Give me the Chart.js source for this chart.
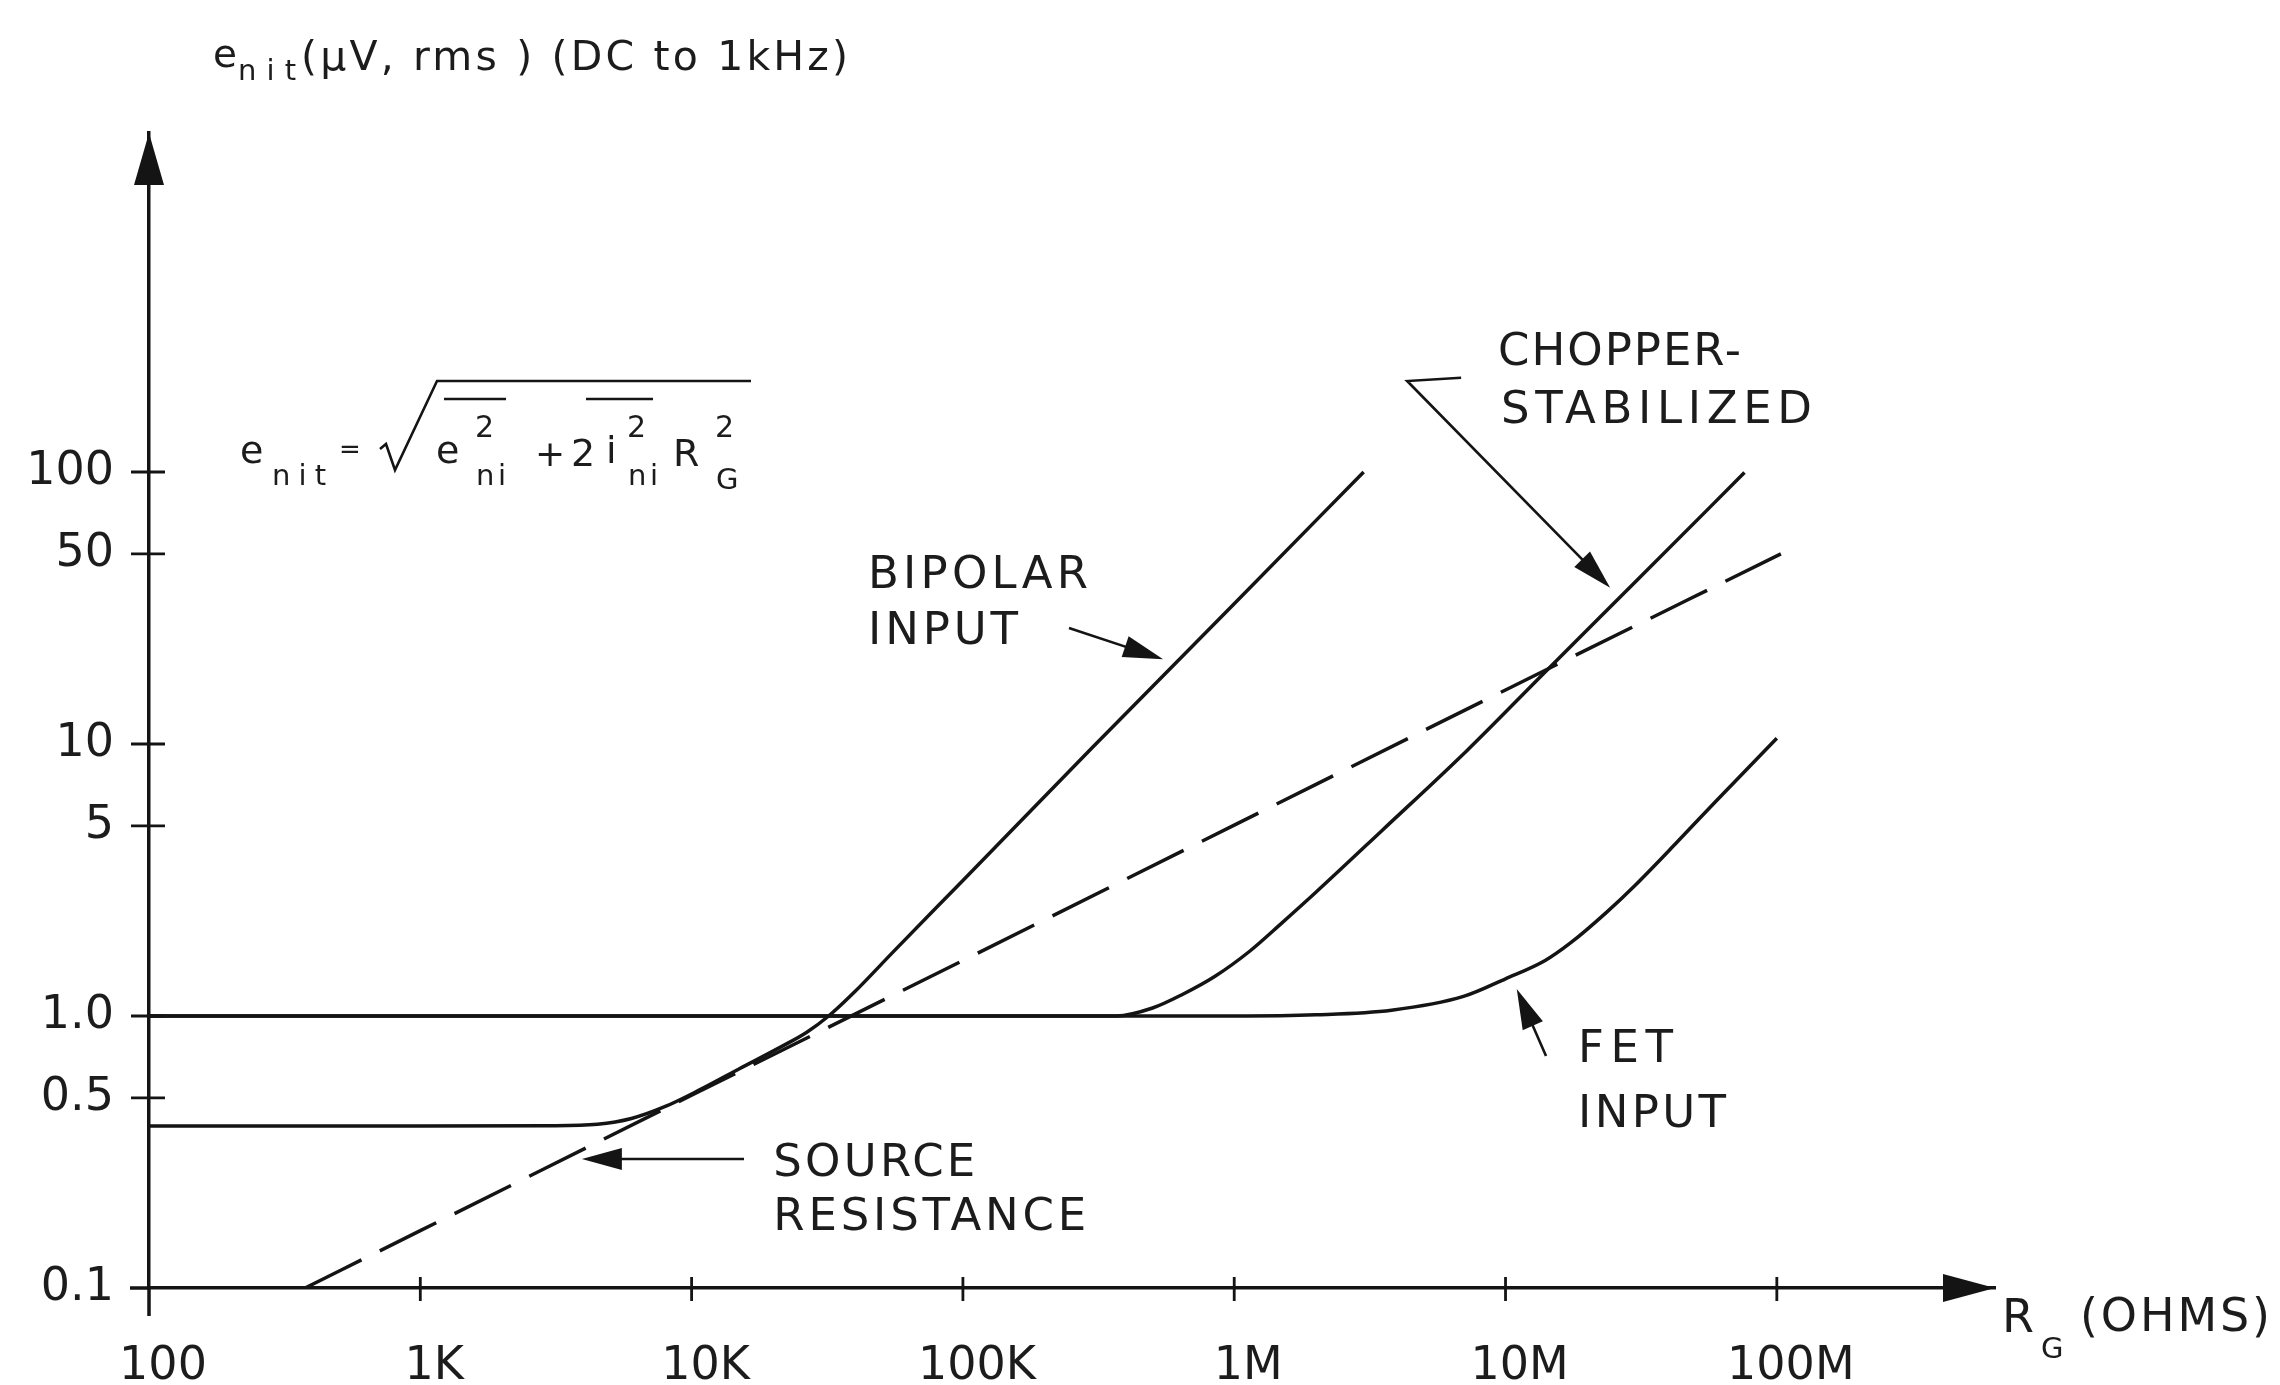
<!DOCTYPE html>
<html>
<head>
<meta charset="utf-8">
<style>
  html, body { margin: 0; padding: 0; background: #ffffff; }
  #wrap { width: 2280px; height: 1385px; position: relative; }
  canvas { display: block; }
</style>
<script src="https://cdn.jsdelivr.net/npm/chart.js@4.4.1/dist/chart.umd.min.js"></script>
</head>
<body>
<div id="wrap"><canvas id="c" width="2280" height="1385"></canvas></div>
<script>
// ---------------- data ----------------
const xTickValues = [100, 1000, 10000, 100000, 1000000, 10000000, 100000000];
const xTickLabels = ['100', '1K', '10K', '100K', '1M', '10M', '100M'];
const yTickValues = [0.1, 0.5, 1, 5, 10, 50, 100];
const yTickLabels = ['0.1', '0.5', '1.0', '5', '10', '50', '100'];

// source resistance (dashed)
const sourceR = [376, 1000, 10000, 100000, 1000000, 10000000, 103500000];
const sourceE = [0.1, 0.1625, 0.511, 1.60, 5.03, 15.8, 50];

// bipolar input
const bipolarR = [100, 1000, 3000, 4500, 6000, 8000, 10700, 15000, 21600, 26500, 32000, 40000, 55000, 100000, 300000, 1000000, 3000000];
const bipolarE = [0.394, 0.394, 0.395, 0.40, 0.42, 0.465, 0.535, 0.64, 0.775, 0.87, 1.0, 1.23, 1.71, 3.15, 9.7, 32.8, 100];

// chopper-stabilized
const chopperR = [100, 1000, 10000, 100000, 300000, 368000, 500000, 644000, 850000, 1140000, 1500000, 2000000, 3500000, 7200000, 14000000, 30000000, 76000000];
const chopperE = [1.0, 1.0, 1.0, 1.0, 1.0, 1.0, 1.07, 1.2, 1.4, 1.73, 2.2, 2.85, 4.8, 9.45, 18.4, 39.3, 99.5];

// FET input
const fetR = [100, 1000, 10000, 100000, 1000000, 2000000, 3800000, 7000000, 10000000, 14000000, 17400000, 23500000, 30000000, 43000000, 60000000, 100000000];
const fetE = [1.0, 1.0, 1.0, 1.0, 1.0, 1.01, 1.05, 1.18, 1.37, 1.6, 1.86, 2.4, 3.02, 4.37, 6.2, 10.5];

// axis extents (data units) – the arrow tips
const xAxisMax = 637000000;
const yAxisMax = 1763;

// ---------------- styling ----------------
const INK = '#141414';
const TXT = '#1c1c1c';
const FONT = "'DejaVu Sans', 'Liberation Sans', sans-serif";

// annotation labels, anchored in data coordinates (left edge, vertical centre)
const notes = [
  { s: 'BIPOLAR',    r: 44700,    e: 41.5,  w: 220 },
  { s: 'INPUT',      r: 44700,    e: 25.8,  w: 150 },
  { s: 'CHOPPER-',   r: 9380000,  e: 274,   w: 243 },
  { s: 'STABILIZED', r: 9620000,  e: 167,   w: 311 },
  { s: 'FET',        r: 18500000, e: 0.75,  w: 95 },
  { s: 'INPUT',      r: 18500000, e: 0.432, w: 148 },
  { s: 'SOURCE',     r: 20000,    e: 0.285, w: 202 },
  { s: 'RESISTANCE', r: 20000,    e: 0.180, w: 313 }
];
// pointer arrows: list of [R, e] vertices, the last is the arrow tip
const pointers = [
  [[246000, 26.7], [547000, 20.5]],
  [[6860000, 222], [4340000, 216], [24300000, 37.5]],
  [[14100000, 0.713], [11000000, 1.256]],
  [[15600, 0.298], [3940, 0.298]]
];

function pts(xs, ys) { return xs.map((v, i) => ({ x: v, y: ys[i] })); }

function drawText(ctx, s, x, y, size, opt) {
  opt = opt || {};
  ctx.font = size + 'px ' + FONT;
  ctx.textAlign = 'left';
  ctx.textBaseline = opt.base || 'alphabetic';
  let ls = 0;
  if (opt.w) {
    ctx.letterSpacing = '0px';
    const m = ctx.measureText(s).width;
    ls = Math.max(0, (opt.w - m) / Math.max(1, s.length - 1));
  }
  if (opt.ls) ls = opt.ls;
  ctx.letterSpacing = ls + 'px';
  ctx.fillText(s, x, y);
  ctx.letterSpacing = '0px';
}

function arrowPath(ctx, ptsArr, headLen, headHalf) {
  ctx.beginPath();
  ctx.moveTo(ptsArr[0][0], ptsArr[0][1]);
  const n = ptsArr.length;
  const [xa, ya] = ptsArr[n - 2];
  const [xb, yb] = ptsArr[n - 1];
  const a = Math.atan2(yb - ya, xb - xa);
  for (let i = 1; i < n - 1; i++) ctx.lineTo(ptsArr[i][0], ptsArr[i][1]);
  ctx.lineTo(xb - Math.cos(a) * headLen * 0.7, yb - Math.sin(a) * headLen * 0.7);
  ctx.stroke();
  ctx.beginPath();
  ctx.moveTo(xb, yb);
  ctx.lineTo(xb - Math.cos(a) * headLen + Math.sin(a) * headHalf, yb - Math.sin(a) * headLen - Math.cos(a) * headHalf);
  ctx.lineTo(xb - Math.cos(a) * headLen - Math.sin(a) * headHalf, yb - Math.sin(a) * headLen + Math.cos(a) * headHalf);
  ctx.closePath();
  ctx.fill();
}

const decor = {
  id: 'decor',
  afterDraw(chart) {
    const ctx = chart.ctx;
    const xs = chart.scales.x, ys = chart.scales.y;
    const ca = chart.chartArea;
    const x0 = xs.getPixelForValue(xTickValues[0]);
    const y0 = ys.getPixelForValue(yTickValues[0]);
    ctx.save();
    ctx.strokeStyle = INK; ctx.fillStyle = INK; ctx.lineWidth = 3.5; ctx.lineCap = 'butt';

    // axis extensions past the origin
    ctx.beginPath();
    ctx.moveTo(x0, y0); ctx.lineTo(x0, y0 + 28);
    ctx.moveTo(x0 - 19, y0); ctx.lineTo(x0, y0);
    ctx.stroke();

    // crossing tick marks
    ctx.lineWidth = 2.8;
    ctx.beginPath();
    xTickValues.slice(1).forEach(v => {
      const px = xs.getPixelForValue(v);
      ctx.moveTo(px, y0 - 11); ctx.lineTo(px, y0 + 13);
    });
    yTickValues.slice(1).forEach(v => {
      const py = ys.getPixelForValue(v);
      ctx.moveTo(x0 - 18, py); ctx.lineTo(x0 + 16, py);
    });
    ctx.stroke();

    // arrow heads of the axes
    ctx.beginPath();
    ctx.moveTo(x0, ca.top); ctx.lineTo(x0 - 15, ca.top + 52); ctx.lineTo(x0 + 15, ca.top + 52); ctx.closePath();
    ctx.fill();
    ctx.beginPath();
    ctx.moveTo(ca.right, y0); ctx.lineTo(ca.right - 52, y0 - 14); ctx.lineTo(ca.right - 52, y0 + 14); ctx.closePath();
    ctx.fill();

    // pointer arrows
    ctx.lineWidth = 2.6;
    pointers.forEach(p => {
      const P = p.map(([r, e]) => [xs.getPixelForValue(r), ys.getPixelForValue(e)]);
      arrowPath(ctx, P, 40, 11);
    });

    // annotation labels
    ctx.fillStyle = TXT;
    notes.forEach(n => {
      drawText(ctx, n.s, xs.getPixelForValue(n.r), ys.getPixelForValue(n.e), 45, { base: 'middle', w: n.w });
    });

    // y-axis title
    drawText(ctx, 'e', 213, 67, 39);
    drawText(ctx, 'nit', 238, 80, 29, { w: 58 });
    drawText(ctx, '(\u03BCV, rms ) (DC to 1kHz)', 301, 70, 41, { w: 547 });

    // x-axis title
    drawText(ctx, 'R', 2002, 1332, 46);
    drawText(ctx, 'G', 2041, 1358, 29);
    drawText(ctx, '(OHMS)', 2080, 1331, 46, { w: 190 });

    // formula
    drawText(ctx, 'e', 240, 463, 38);
    drawText(ctx, 'nit', 272, 485, 29, { w: 54 });
    drawText(ctx, '=', 339, 458, 26);
    drawText(ctx, 'e', 436, 463, 38);
    drawText(ctx, '2', 475, 437, 30);
    drawText(ctx, 'ni', 476, 485, 29, { w: 30 });
    drawText(ctx, '+', 535, 466, 36);
    drawText(ctx, '2', 571, 466, 38);
    drawText(ctx, 'i', 606, 463, 38);
    drawText(ctx, '2', 627, 437, 30);
    drawText(ctx, 'ni', 628, 485, 29, { w: 30 });
    drawText(ctx, 'R', 673, 466, 38);
    drawText(ctx, '2', 715, 437, 30);
    drawText(ctx, 'G', 716, 489, 29);
    ctx.strokeStyle = INK;
    ctx.lineWidth = 2.6;
    ctx.beginPath();
    ctx.moveTo(380, 449); ctx.lineTo(386, 444); ctx.lineTo(395, 470); ctx.lineTo(437, 381); ctx.lineTo(751, 381);
    ctx.stroke();
    ctx.beginPath();
    ctx.moveTo(444, 399); ctx.lineTo(506, 399);
    ctx.moveTo(586, 399); ctx.lineTo(653, 399);
    ctx.stroke();

    ctx.restore();
  }
};

const lineDefaults = { borderColor: INK, backgroundColor: INK, borderWidth: 3.5, pointRadius: 0, fill: false, cubicInterpolationMode: 'monotone' };

new Chart(document.getElementById('c').getContext('2d'), {
  type: 'line',
  data: {
    datasets: [
      Object.assign({ label: 'Source resistance', data: pts(sourceR, sourceE), borderDash: [63, 20.5] }, lineDefaults),
      Object.assign({ label: 'Bipolar input', data: pts(bipolarR, bipolarE) }, lineDefaults),
      Object.assign({ label: 'Chopper-stabilized', data: pts(chopperR, chopperE) }, lineDefaults),
      Object.assign({ label: 'FET input', data: pts(fetR, fetE) }, lineDefaults)
    ]
  },
  options: {
    responsive: false,
    animation: false,
    layout: { padding: { top: 133, right: 285, left: 0, bottom: 0 } },
    plugins: { legend: { display: false }, tooltip: { enabled: false }, colors: { enabled: false } },
    scales: {
      x: {
        type: 'logarithmic', position: 'bottom', min: xTickValues[0], max: xAxisMax,
        afterBuildTicks: s => { s.ticks = xTickValues.map(v => ({ value: v })); },
        afterFit: s => { s.height = 97; },
        grid: { display: false, drawTicks: false },
        border: { display: true, width: 3.5, color: INK },
        ticks: {
          autoSkip: false, maxRotation: 0, padding: 51, labelOffset: 14,
          color: TXT, font: { family: FONT, size: 46 },
          callback: (v, i) => xTickLabels[i]
        }
      },
      y: {
        type: 'logarithmic', position: 'left', min: yTickValues[0], max: yAxisMax,
        afterBuildTicks: s => { s.ticks = yTickValues.map(v => ({ value: v })); },
        afterFit: s => { s.width = 149; },
        grid: { display: false, drawTicks: false },
        border: { display: true, width: 3.5, color: INK },
        ticks: {
          autoSkip: false, padding: 35,
          color: TXT, font: { family: FONT, size: 46 },
          callback: (v, i) => yTickLabels[i]
        }
      }
    }
  },
  plugins: [decor]
});
</script>
</body>
</html>
